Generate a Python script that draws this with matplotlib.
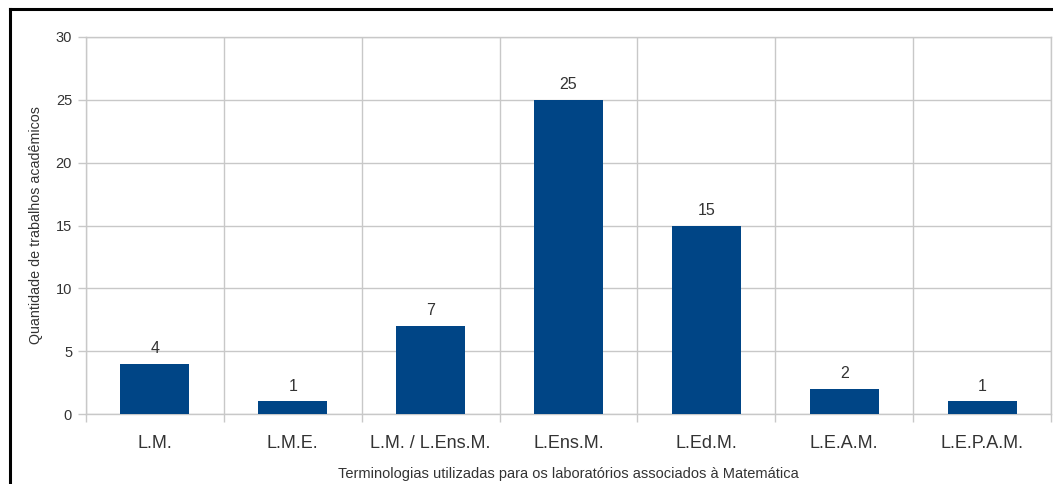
import matplotlib
matplotlib.use("Agg")
import matplotlib.pyplot as plt
from matplotlib.lines import Line2D
import numpy as np

plt.rcParams['font.family'] = ['Liberation Sans', 'DejaVu Sans']

categories = ["L.M.", "L.M.E.", "L.M. / L.Ens.M.", "L.Ens.M.", "L.Ed.M.", "L.E.A.M.", "L.E.P.A.M."]
counts = [4, 1, 7, 25, 15, 2, 1]
y_ticks = [0, 5, 10, 15, 20, 25, 30]

bar_color = "#004586"
grid_color = "#c8c8c8"
text_color = "#333333"

fig = plt.figure(figsize=(10.53, 4.84), dpi=100)
ax = fig.add_axes([86 / 1053, 1 - 414 / 484, (1051 - 86) / 1053, (414 - 37) / 484])

x = np.arange(len(categories))
ax.bar(x, counts, width=0.5, color=bar_color, zorder=3)

for xi, v in zip(x, counts):
    ax.annotate(str(v), (xi, v), xytext=(0, 5.5), textcoords="offset points",
                ha="center", va="bottom", fontsize=11.5, color=text_color)

ax.set_xlim(-0.5, len(categories) - 0.5)
ax.set_ylim(0, 30)
ax.set_yticks(y_ticks)
ax.set_yticklabels([str(t) for t in y_ticks], fontsize=10.5, color=text_color)
ax.set_xticks(x)
ax.set_xticklabels(categories, fontsize=13, color=text_color)
ax.set_xticks(np.arange(-0.5, len(categories)), minor=True)

ax.tick_params(axis="x", which="major", length=0, pad=15)
ax.tick_params(axis="x", which="minor", length=6, color=grid_color, width=1)
ax.tick_params(axis="y", which="major", length=6, color=grid_color, width=1, pad=4)

ax.grid(True, axis="y", which="major", color=grid_color, linewidth=1, zorder=0)
ax.grid(True, axis="x", which="minor", color=grid_color, linewidth=1, zorder=0)

for side in ["left", "bottom", "top", "right"]:
    ax.spines[side].set_color(grid_color)
    ax.spines[side].set_linewidth(1)

ax.set_xlabel("Terminologias utilizadas para os laboratórios associados à Matemática",
              fontsize=10.5, color=text_color, labelpad=11)
ax.set_ylabel("Quantidade de trabalhos acadêmicos", fontsize=10.3, color=text_color, labelpad=9)

# Frame around the figure (left and top edges)
fig.add_artist(Line2D([9.5 / 1053, 9.5 / 1053], [0, 1 - 9 / 484], color="black", linewidth=2.2,
                      transform=fig.transFigure, solid_capstyle="projecting"))
fig.add_artist(Line2D([9.5 / 1053, 1], [1 - 9 / 484, 1 - 9 / 484], color="black", linewidth=2.2,
                      transform=fig.transFigure, solid_capstyle="projecting"))

fig.savefig("out.png", dpi=100)
